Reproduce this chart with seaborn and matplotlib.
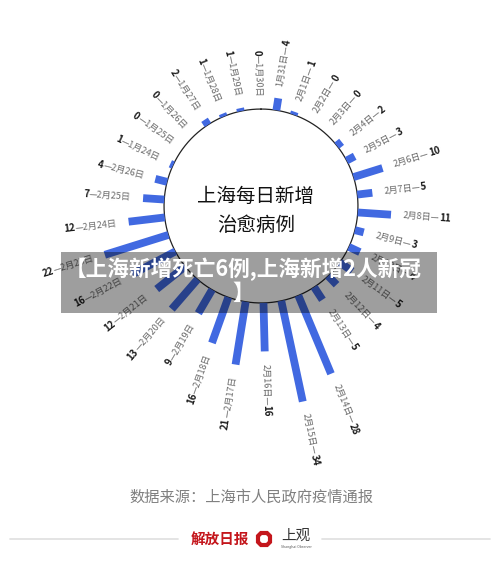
import numpy as np
import matplotlib.pyplot as plt
import seaborn as sns
from matplotlib.patches import Rectangle
from matplotlib.lines import Line2D

# 上海每日新增治愈病例 (1月24日 - 2月26日)
dates = ["1月24日", "1月25日", "1月26日", "1月27日", "1月28日", "1月29日", "1月30日", "1月31日",
         "2月1日", "2月2日", "2月3日", "2月4日", "2月5日", "2月6日", "2月7日", "2月8日",
         "2月9日", "2月10日", "2月11日", "2月12日", "2月13日", "2月14日", "2月15日", "2月16日",
         "2月17日", "2月18日", "2月19日", "2月20日", "2月21日", "2月22日", "2月23日", "2月24日",
         "2月25日", "2月26日"]
cured = [1, 0, 0, 2, 1, 1, 0, 4,
         1, 0, 0, 2, 3, 10, 5, 11,
         3, 4, 5, 4, 5, 28, 34, 16,
         21, 16, 9, 13, 12, 16, 22, 12,
         7, 4]

title = "上海每日新增\n治愈病例"
banner = "【上海新增死亡6例,上海新增2人新冠\n】"
source = "数据来源：上海市人民政府疫情通报"

sns.set_theme(style="white")
plt.rcParams["font.family"] = ["Noto Sans CJK SC", "DejaVu Sans"]

W, H = 500, 564
blue = "#4169E1"
gray_txt = "#6b6b6b"
dark_txt = "#1a1a1a"

fig = plt.figure(figsize=(W / 100, H / 100), dpi=100)
fig.patch.set_facecolor("white")

# polar axes: r=0 sits on the inner circle
R0, RMAX, PPU = 32, 36, 3.03
cx, cy = 261, 206
half = (R0 + RMAX) * PPU
ax = fig.add_axes([(cx - half) / W, (H - cy - half) / H, 2 * half / W, 2 * half / H],
                  projection="polar")
ax.set_theta_zero_location("N")
ax.set_theta_direction(-1)
ax.set_rorigin(-R0)
ax.set_ylim(0, RMAX)
ax.patch.set_alpha(0)
ax.axis("off")

n = len(dates)
start = 295.0
deg = (start + np.arange(n) * 360.0 / n) % 360
theta = np.deg2rad(deg)

# inner circle
ring = np.linspace(0, 2 * np.pi, 400)
ax.plot(ring, np.zeros_like(ring), color="#222222", lw=0.9, clip_on=False)

# bars (constant width)
ax.vlines(theta, 0, cured, colors=blue, linewidth=5.6, clip_on=False)

# labels
fig.canvas.draw()
renderer = fig.canvas.get_renderer()
p0 = ax.transData.transform((0, 0))
p1 = ax.transData.transform((0, 1))
ppu = np.hypot(*(p1 - p0))
fs = 6.6


def text_w(s, **kw):
    t = fig.text(0, 0, s, fontsize=fs, **kw)
    w = t.get_window_extent(renderer).width
    t.remove()
    return w


gap = 4.0
for th, d, v, dg in zip(theta, dates, cured, deg):
    r = v + gap
    if dg < 180:
        rot = 90 - dg
        s1, ha = d + "—", "left"
    else:
        rot = 270 - dg
        s1, ha = "—" + d, "right"
    ax.text(th, r, s1, rotation=rot, rotation_mode="anchor", ha=ha, va="center",
            fontsize=fs, color=gray_txt)
    w = text_w(s1)
    ax.text(th, r + w / ppu, str(v), rotation=rot, rotation_mode="anchor", ha=ha,
            va="center", fontsize=fs + 0.4, color=dark_txt, fontweight="bold")

# centre title
fig.text(256 / W, 1 - 211 / H, title, ha="center", va="center", fontsize=14,
         color="#111111", linespacing=1.55)

# grey news banner on top
fig.add_artist(Rectangle((61 / W, 1 - 313 / H), (437 - 61) / W, 61 / H,
                         transform=fig.transFigure, facecolor="black", alpha=0.38,
                         edgecolor="none", zorder=10))
fig.text(243 / W, 1 - 281 / H, banner, ha="center", va="center", fontsize=15.6,
         fontweight="bold", color="white", linespacing=1.05, zorder=11)

# footer
fig.text(251 / W, 1 - 497 / H, source, ha="center", va="center", fontsize=11,
         color="#808080")
for x0, x1 in [(10, 178), (322, 490)]:
    fig.add_artist(Line2D([x0 / W, x1 / W], [1 - 539 / H] * 2, color="#e2e2e2", lw=1.3,
                          transform=fig.transFigure))
fig.text(220 / W, 1 - 539 / H, "解放日报", ha="center", va="center", fontsize=10.5,
         color="#c4161c", fontweight="bold", style="italic")
fig.add_artist(Line2D([264 / W], [1 - 539 / H], marker="8", ms=10, mfc="white",
                      mec="#c4161c", mew=3.0, transform=fig.transFigure))
fig.text(296 / W, 1 - 536 / H, "上观", ha="center", va="center", fontsize=10.5,
         color="#333333")
fig.text(296 / W, 1 - 547 / H, "Shanghai Observer", ha="center", va="center",
         fontsize=2.5, color="#555555")

fig.savefig("out.png", dpi=100, facecolor="white")
